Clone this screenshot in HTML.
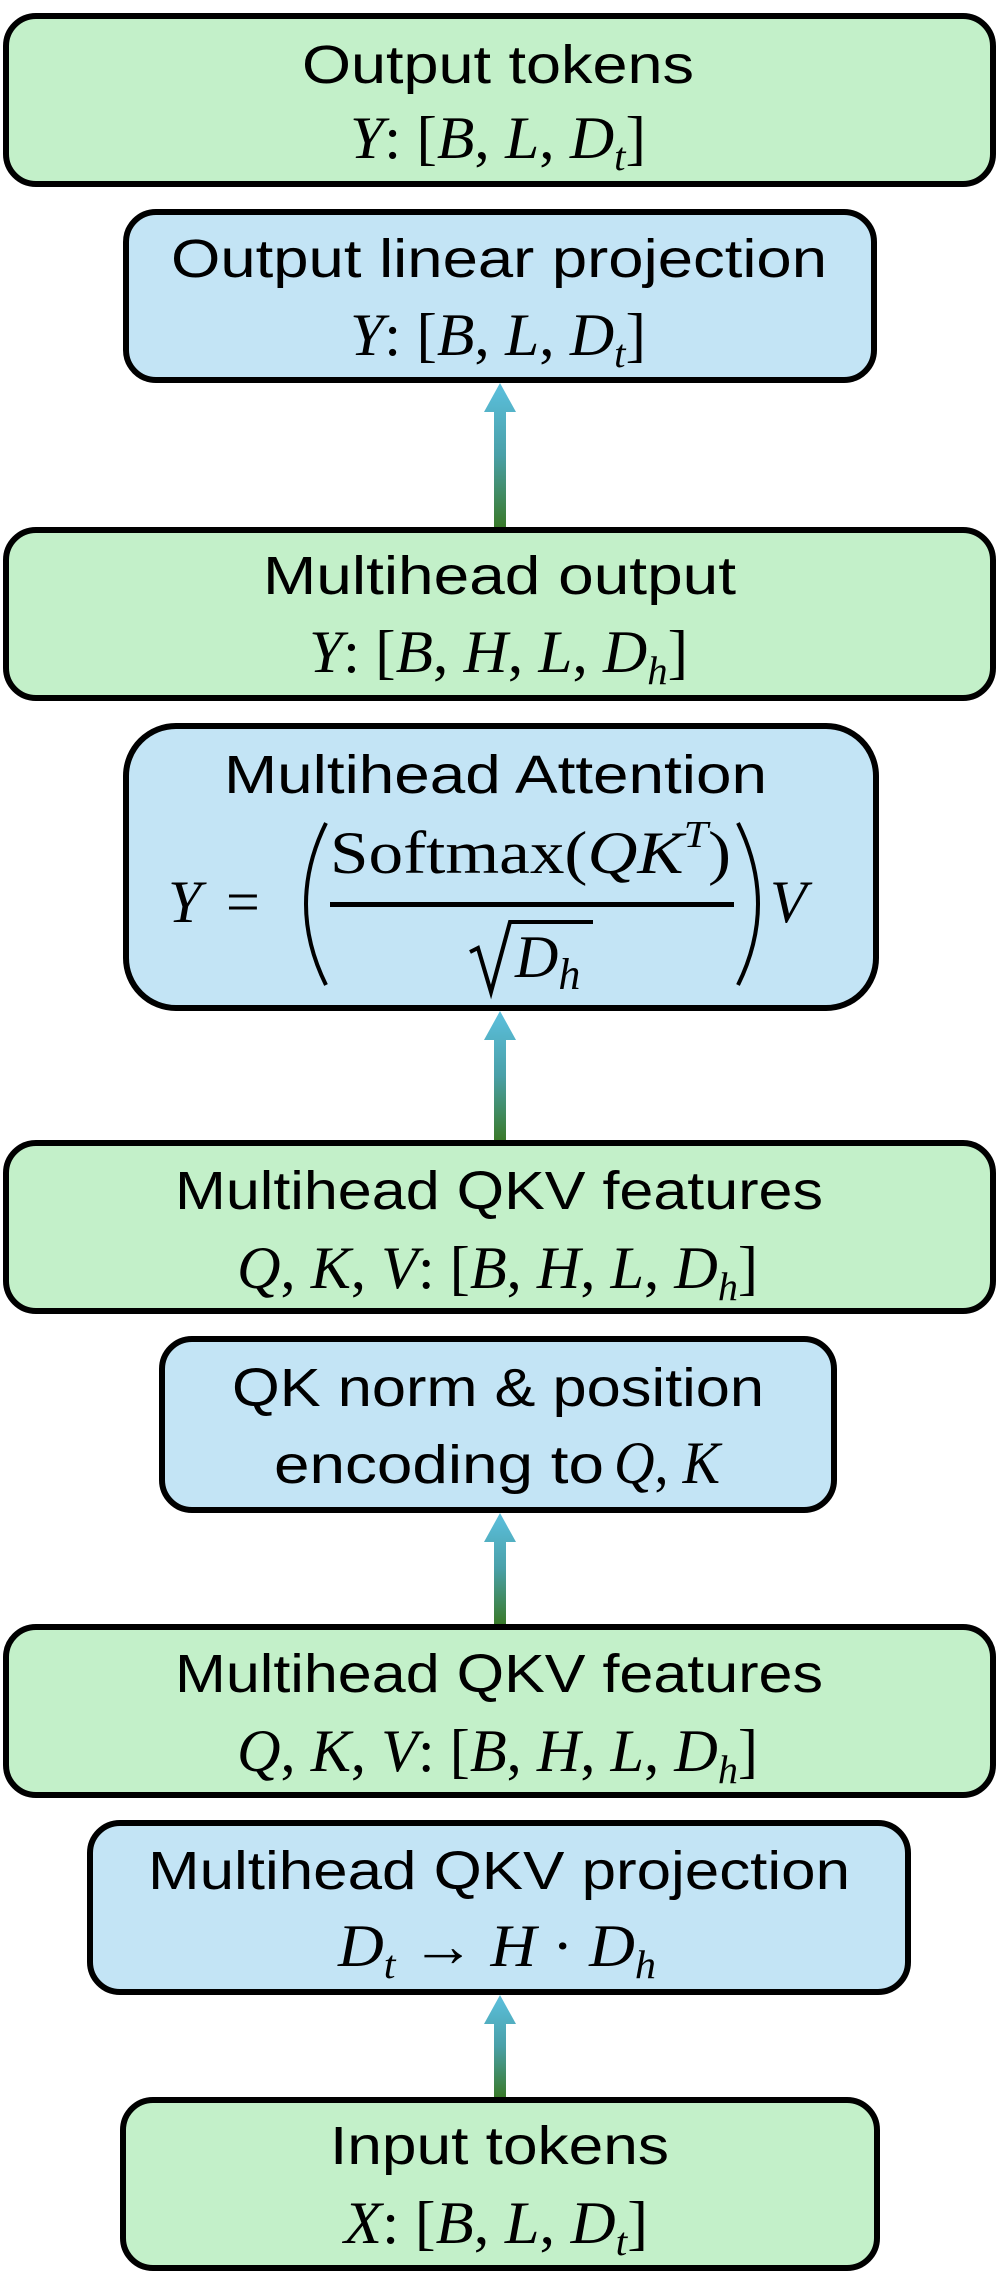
<!DOCTYPE html>
<html><head><meta charset="utf-8"><style>
html,body{margin:0;padding:0;background:#fff;}
svg{display:block;}
.l{font-family:"Liberation Sans",sans-serif;font-size:54px;fill:#000;}
.m{font-family:"Liberation Serif",serif;font-style:italic;font-size:60px;fill:#000;}
.u{font-family:"Liberation Serif",serif;font-style:normal;}
</style></head><body>
<svg width="999" height="2287" viewBox="0 0 999 2287" xmlns="http://www.w3.org/2000/svg">
<defs>
<linearGradient id="ag" x1="0" y1="0" x2="0" y2="1">
<stop offset="0" stop-color="#5bc0de"/><stop offset="0.5" stop-color="#4aa0a8"/><stop offset="1" stop-color="#3a7a2a"/>
</linearGradient>
</defs>
<g stroke="#000" stroke-width="6">
<rect x="6" y="16" width="987" height="168" rx="30" fill="#c3f0c9"/>
<rect x="126" y="212" width="748" height="168" rx="30" fill="#c3e4f5"/>
<rect x="6" y="530" width="987" height="168" rx="30" fill="#c3f0c9"/>
<rect x="126" y="726" width="750" height="282" rx="50" fill="#c3e4f5"/>
<rect x="6" y="1143" width="987" height="168" rx="30" fill="#c3f0c9"/>
<rect x="162" y="1339" width="672" height="171" rx="30" fill="#c3e4f5"/>
<rect x="6" y="1627" width="987" height="168" rx="30" fill="#c3f0c9"/>
<rect x="90" y="1823" width="818" height="169" rx="30" fill="#c3e4f5"/>
<rect x="123" y="2100" width="754" height="168" rx="30" fill="#c3f0c9"/>
</g>
<g fill="url(#ag)">
<path d="M494 527 V412 H484 L500 383 L516 412 H506 V527 Z"/>
<path d="M494 1140 V1040 H484 L500 1011 L516 1040 H506 V1140 Z"/>
<path d="M494 1624 V1542 H484 L500 1513 L516 1542 H506 V1624 Z"/>
<path d="M494 2097 V2024 H484 L500 1995 L516 2024 H506 V2097 Z"/>
</g>
<text class="l" x="302" y="83" textLength="392" lengthAdjust="spacingAndGlyphs">Output tokens</text>
<text class="m" x="350" y="158" textLength="296" lengthAdjust="spacingAndGlyphs">Y<tspan class="u">: [</tspan>B<tspan class="u">, </tspan>L<tspan class="u">, </tspan>D<tspan font-size="40" dy="12">t</tspan><tspan class="u" dy="-12">]</tspan></text>

<text class="l" x="171" y="277" textLength="656" lengthAdjust="spacingAndGlyphs">Output linear projection</text>
<text class="m" x="350" y="355" textLength="296" lengthAdjust="spacingAndGlyphs">Y<tspan class="u">: [</tspan>B<tspan class="u">, </tspan>L<tspan class="u">, </tspan>D<tspan font-size="40" dy="12">t</tspan><tspan class="u" dy="-12">]</tspan></text>

<text class="l" x="263" y="594" textLength="473" lengthAdjust="spacingAndGlyphs">Multihead output</text>
<text class="m" x="309" y="672" textLength="379" lengthAdjust="spacingAndGlyphs">Y<tspan class="u">: [</tspan>B<tspan class="u">, </tspan>H<tspan class="u">, </tspan>L<tspan class="u">, </tspan>D<tspan font-size="40" dy="12">h</tspan><tspan class="u" dy="-12">]</tspan></text>

<text class="l" x="224" y="793" textLength="543" lengthAdjust="spacingAndGlyphs">Multihead Attention</text>
<text class="m" x="168" y="922">Y</text>
<text class="m u" x="226" y="922">=</text>
<path d="M326 823 Q286 904 326 985" fill="none" stroke="#000" stroke-width="4"/>
<text class="m" x="330" y="873" textLength="401" lengthAdjust="spacingAndGlyphs"><tspan class="u">Softmax(</tspan>QK<tspan font-size="38" dy="-26">T</tspan><tspan class="u" dy="26">)</tspan></text>
<rect x="330" y="902" width="404" height="5" fill="#000"/>
<path d="M470 952 L478 948 L491 992 L510 922 H593" fill="none" stroke="#000" stroke-width="4"/>
<text class="m" x="515" y="977">D<tspan font-size="44" dy="12">h</tspan></text>
<path d="M738 823 Q778 904 738 985" fill="none" stroke="#000" stroke-width="4"/>
<text class="m" x="770" y="922">V</text>

<text class="l" x="175" y="1209" textLength="648" lengthAdjust="spacingAndGlyphs">Multihead QKV features</text>
<text class="m" x="237" y="1288" textLength="521" lengthAdjust="spacingAndGlyphs">Q<tspan class="u">, </tspan>K<tspan class="u">, </tspan>V<tspan class="u">: [</tspan>B<tspan class="u">, </tspan>H<tspan class="u">, </tspan>L<tspan class="u">, </tspan>D<tspan font-size="40" dy="12">h</tspan><tspan class="u" dy="-12">]</tspan></text>

<text class="l" x="232" y="1406" textLength="532" lengthAdjust="spacingAndGlyphs">QK norm &amp; position</text>
<text class="l" x="274" y="1483" textLength="330" lengthAdjust="spacingAndGlyphs">encoding to</text>
<text class="m" x="614" y="1483" textLength="106" lengthAdjust="spacingAndGlyphs">Q<tspan class="u">, </tspan>K</text>

<text class="l" x="175" y="1692" textLength="648" lengthAdjust="spacingAndGlyphs">Multihead QKV features</text>
<text class="m" x="237" y="1771" textLength="521" lengthAdjust="spacingAndGlyphs">Q<tspan class="u">, </tspan>K<tspan class="u">, </tspan>V<tspan class="u">: [</tspan>B<tspan class="u">, </tspan>H<tspan class="u">, </tspan>L<tspan class="u">, </tspan>D<tspan font-size="40" dy="12">h</tspan><tspan class="u" dy="-12">]</tspan></text>

<text class="l" x="148" y="1889" textLength="702" lengthAdjust="spacingAndGlyphs">Multihead QKV projection</text>
<text class="m" x="338" y="1966" textLength="318" lengthAdjust="spacingAndGlyphs">D<tspan font-size="40" dy="12">t</tspan><tspan class="u" dy="-12"> → </tspan>H<tspan class="u"> · </tspan>D<tspan font-size="40" dy="12">h</tspan></text>

<text class="l" x="330" y="2164" textLength="339" lengthAdjust="spacingAndGlyphs">Input tokens</text>
<text class="m" x="344" y="2243" textLength="304" lengthAdjust="spacingAndGlyphs">X<tspan class="u">: [</tspan>B<tspan class="u">, </tspan>L<tspan class="u">, </tspan>D<tspan font-size="40" dy="12">t</tspan><tspan class="u" dy="-12">]</tspan></text>
</svg>
</body></html>
